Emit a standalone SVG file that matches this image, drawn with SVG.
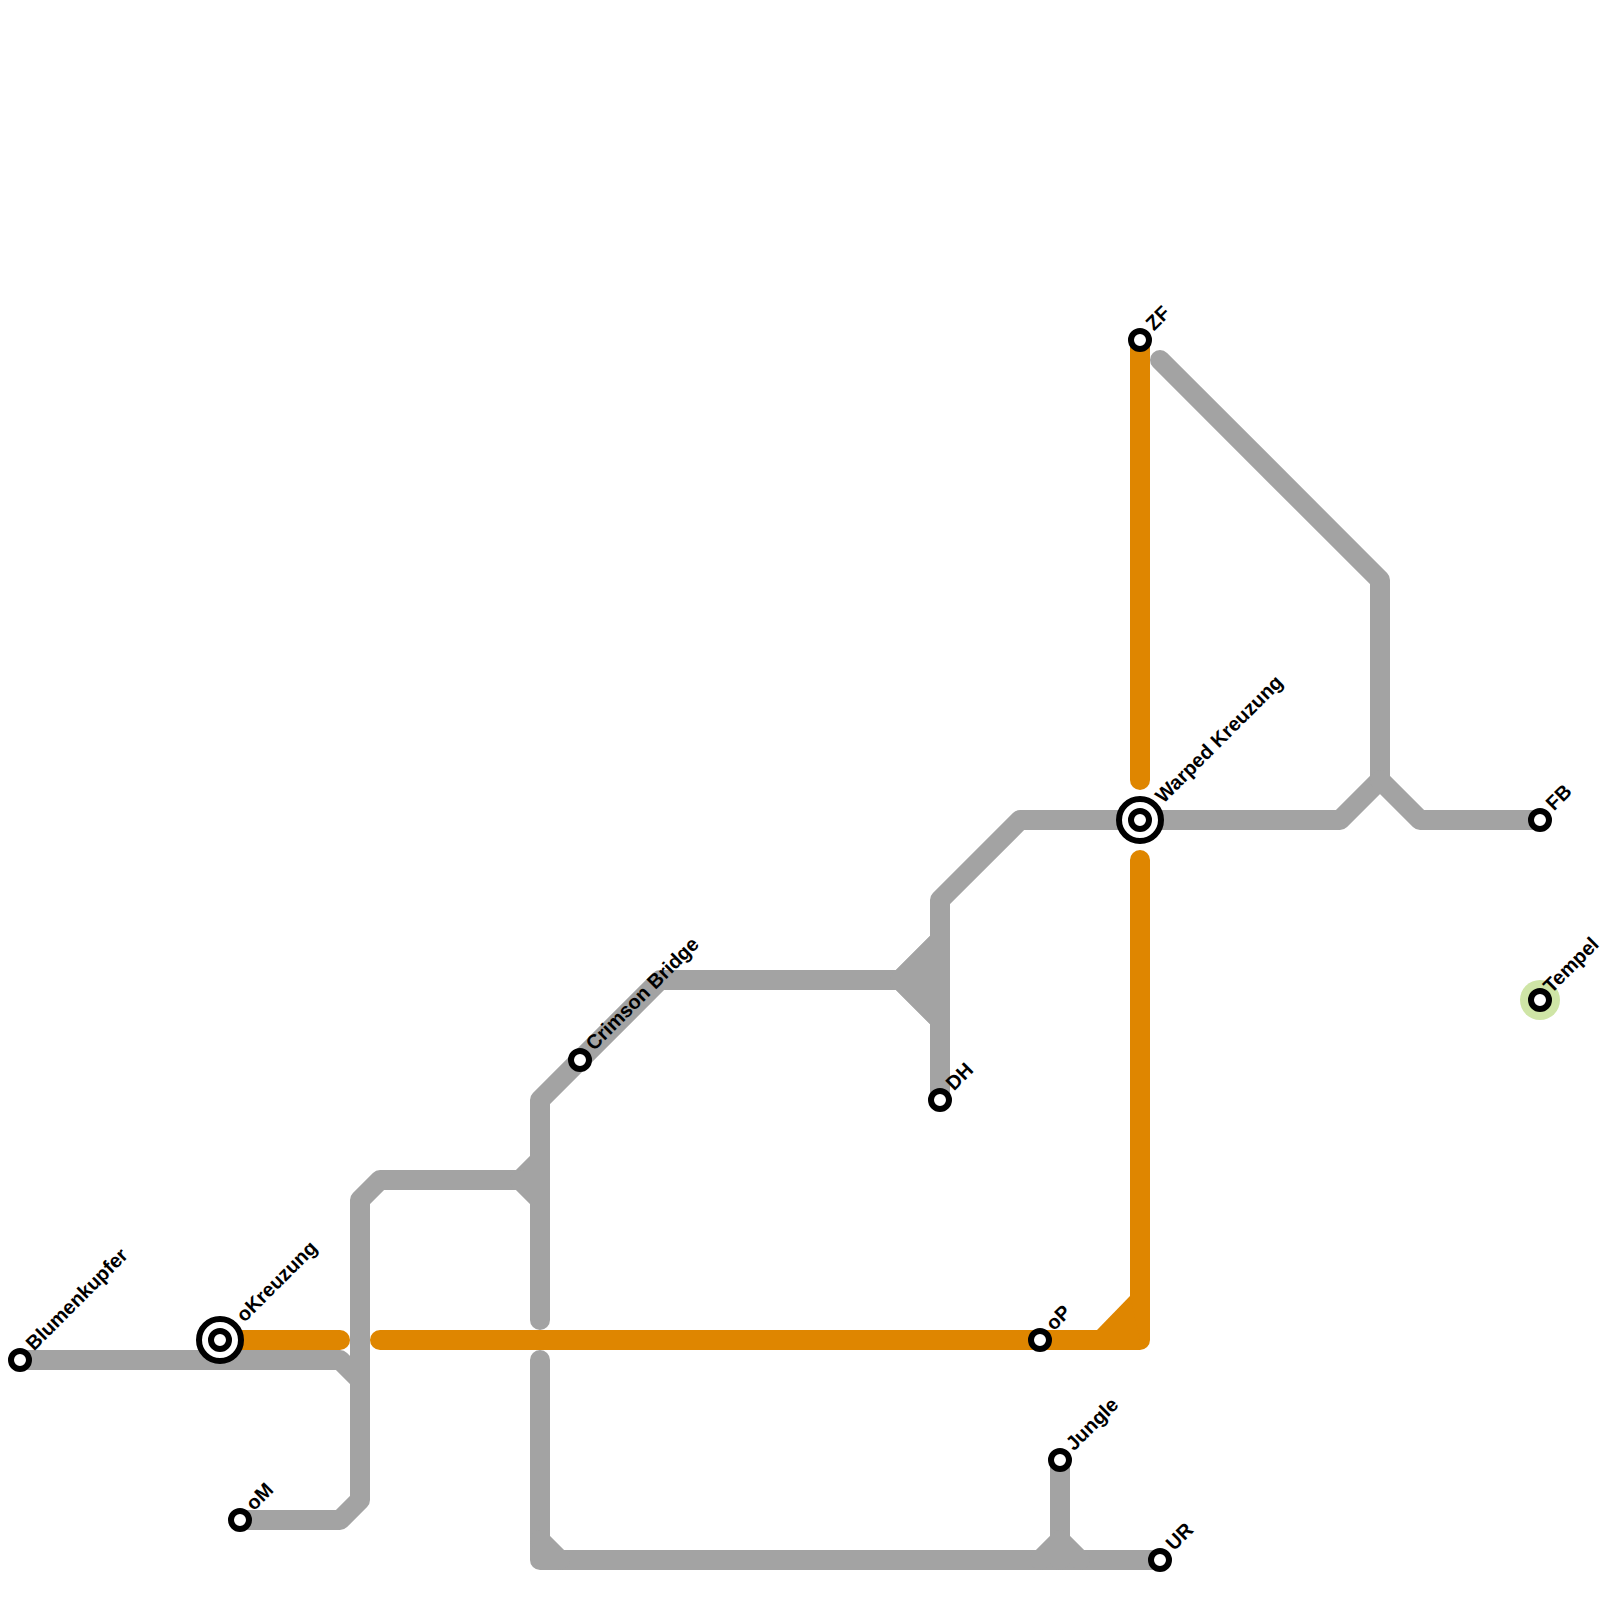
<svg xmlns="http://www.w3.org/2000/svg" width="1600" height="1600" viewBox="0 0 1600 1600">
<style>
.l{fill:none;stroke-width:20;stroke-linecap:round;stroke-linejoin:round}
.g{stroke:#a3a3a3}
.o{stroke:#df8600}
.tg{fill:#a3a3a3}
.to{fill:#df8600}
.s{fill:#fff;stroke:#000;stroke-width:6}
.t{font-family:"Liberation Sans",Arial,sans-serif;font-size:20px;font-weight:700;fill:#000}
</style>
<rect width="1600" height="1600" fill="#fff"/>
<g id="connectors">
<path class="l g" d="M20 1360H340L360 1380"/>
<path class="l g" d="M240 1520H340L360 1500V1200L380 1180H520L540 1160"/>
<path class="l g" d="M520 1180L540 1200"/>
<path class="l g" d="M540 1320V1100L660 980H900L940 940"/>
<path class="l g" d="M900 980L940 1020"/>
<polygon class="tg" points="896,970 930,936 940,1000 930,1024 896,990"/>
<path class="l g" d="M940 1100V900L1020 820H1340L1380 780V580L1160 360"/>
<path class="l g" d="M1380 780L1420 820H1540"/>
<path class="l g" d="M540 1360V1560H1160"/>
<path class="l g" d="M540 1540L560 1560"/>
<path class="l g" d="M1060 1460V1560"/>
<path class="l g" d="M1040 1560L1060 1540L1080 1560"/>
<path class="l o" d="M240 1340H340"/>
<path class="l o" d="M380 1340H1140V860"/>
<path class="l o" d="M1140 780V340"/>
<polygon class="to" points="1097,1330 1130,1296 1140,1340 1100,1340"/>
</g>
<g id="n-blumenkupfer"><circle class="s" cx="20" cy="1360" r="9"/><text class="t" transform="translate(34 1351.5) rotate(-45)">Blumenkupfer</text></g>
<g id="n-okreuzung"><circle class="s" cx="220" cy="1340" r="21"/><circle class="s" cx="220" cy="1340" r="9"/><text class="t" transform="translate(244.5 1323) rotate(-45)">oKreuzung</text></g>
<g id="n-om"><circle class="s" cx="240" cy="1520" r="9"/><text class="t" transform="translate(254 1511.5) rotate(-45)">oM</text></g>
<g id="n-crimson"><circle class="s" cx="580" cy="1060" r="9"/><text class="t" transform="translate(594 1051.5) rotate(-45)">Crimson Bridge</text></g>
<g id="n-dh"><circle class="s" cx="940" cy="1100" r="9"/><text class="t" transform="translate(954 1091.5) rotate(-45)">DH</text></g>
<g id="n-op"><circle class="s" cx="1040" cy="1340" r="9"/><text class="t" transform="translate(1054 1331.5) rotate(-45)">oP</text></g>
<g id="n-jungle"><circle class="s" cx="1060" cy="1460" r="9"/><text class="t" transform="translate(1074 1451.5) rotate(-45)">Jungle</text></g>
<g id="n-ur"><circle class="s" cx="1160" cy="1560" r="9"/><text class="t" transform="translate(1174 1551.5) rotate(-45)">UR</text></g>
<g id="n-zf"><circle class="s" cx="1140" cy="340" r="9"/><text class="t" transform="translate(1154 331.5) rotate(-45)">ZF</text></g>
<g id="n-warped"><circle class="s" cx="1140" cy="820" r="21"/><circle class="s" cx="1140" cy="820" r="9"/><text class="t" transform="translate(1163.5 804) rotate(-45)">Warped Kreuzung</text></g>
<g id="n-fb"><circle class="s" cx="1540" cy="820" r="9"/><text class="t" transform="translate(1554 811.5) rotate(-45)">FB</text></g>
<g id="n-tempel"><circle cx="1540" cy="1000" r="20" fill="#cfe5a6"/><circle class="s" cx="1540" cy="1000" r="9"/><text class="t" transform="translate(1551.5 994) rotate(-45)">Tempel</text></g>
</svg>
